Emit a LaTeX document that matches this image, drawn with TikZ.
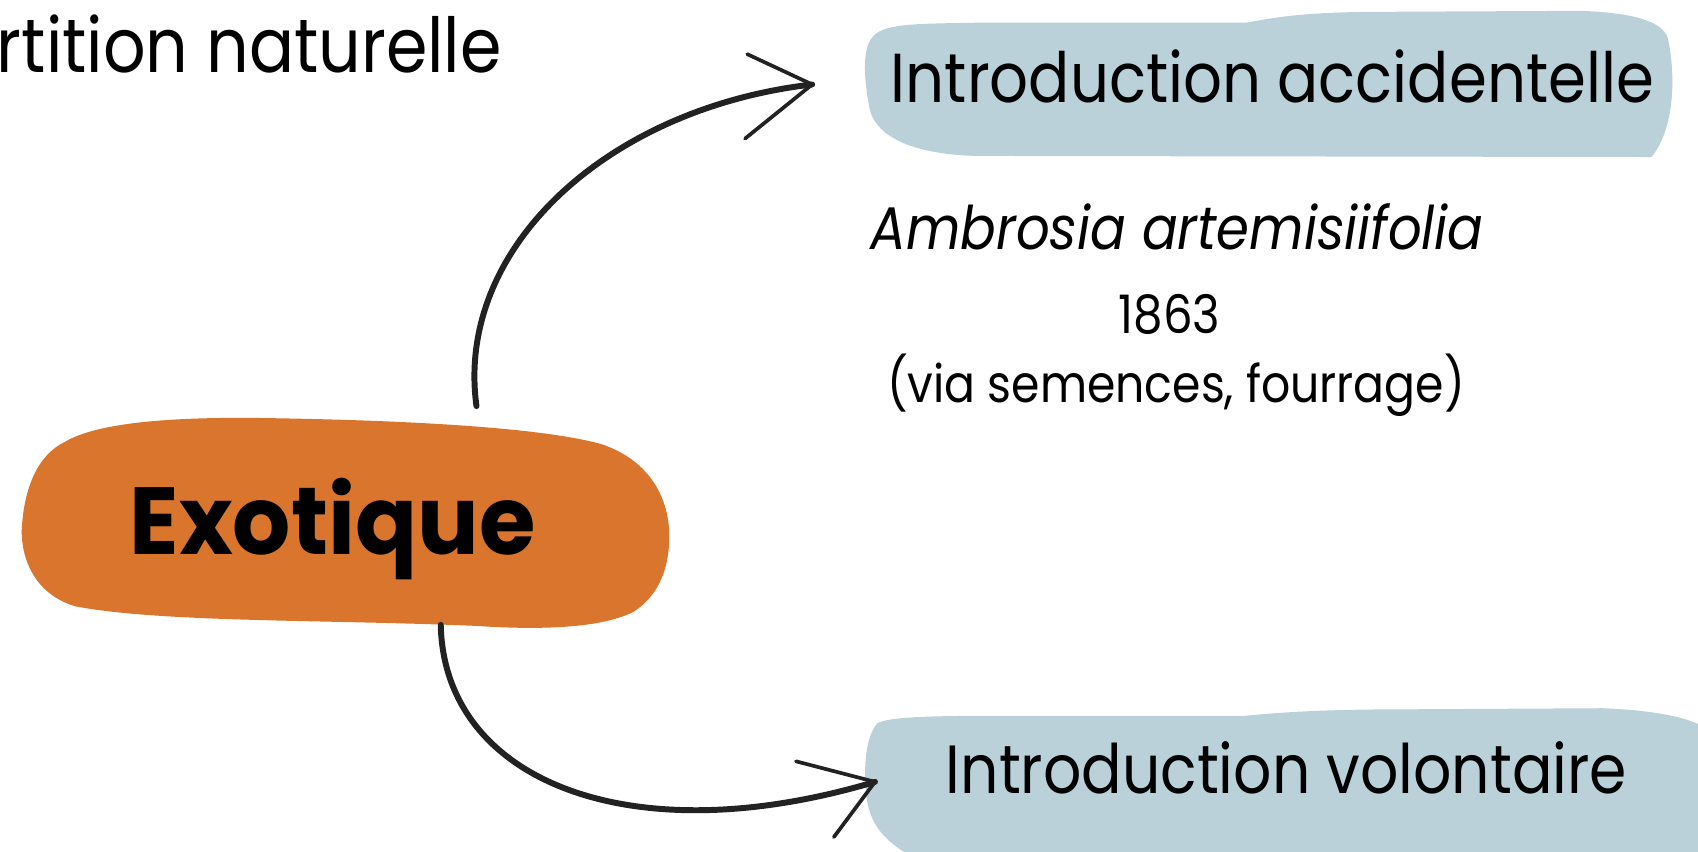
\documentclass[tikz,border=0pt]{standalone}
\usepackage{fontspec}
\setmainfont{Poppins}[FakeStretch=0.88, BoldFeatures={FakeStretch=0.96}]
\definecolor{blobblue}{HTML}{BBD1DA}
\definecolor{bloborange}{HTML}{D9752C}
\definecolor{ink}{HTML}{222222}
\begin{document}
\begin{tikzpicture}[x=1pt,y=-1pt,
  txt/.style={inner sep=0pt,text=black},
  sketch/.style={draw=ink,line width=5.5pt,line cap=round,line join=round},
  tipstroke/.style={draw=ink,line width=3.4pt,line cap=round,line join=round}]
\useasboundingbox (0,0) rectangle (1568,786);
\fill[white] (0,0) rectangle (1568,786);
% blobs
\fill[blobblue] (805,35) .. controls (815,22) and (840,22) .. (900,21) -- (1150,21)
  .. controls (1170,18) and (1190,12) .. (1260,11) -- (1460,10)
  .. controls (1510,12) and (1535,20) .. (1540,35)
  .. controls (1548,70) and (1546,120) .. (1525,145) -- (900,144)
  .. controls (840,142) and (808,125) .. (803,100)
  .. controls (797,70) and (797,45) .. (805,35) -- cycle;
\fill[bloborange] (60,408) .. controls (90,390) and (160,385) .. (240,386)
  .. controls (380,388) and (500,395) .. (555,410)
  .. controls (600,425) and (618,460) .. (618,495)
  .. controls (618,530) and (605,552) .. (585,565)
  .. controls (555,580) and (500,582) .. (440,578)
  .. controls (300,572) and (150,575) .. (70,560)
  .. controls (35,550) and (20,520) .. (20,490)
  .. controls (22,450) and (35,420) .. (60,408) -- cycle;
\fill[blobblue] (810,668) .. controls (820,662) and (860,661) .. (920,661) -- (1150,661)
  .. controls (1180,658) and (1220,655) .. (1300,655) -- (1480,654)
  .. controls (1530,656) and (1560,663) .. (1575,672) -- (1575,790) -- (840,790)
  .. controls (815,775) and (803,760) .. (800,735)
  .. controls (797,705) and (800,680) .. (810,668) -- cycle;
% texts
\node[txt,anchor=base west,font=\fontsize{70}{80}\selectfont] (rep) at (-3,67) {rtition naturelle};
\node[txt,anchor=base,font=\fontsize{64}{72}\selectfont] (acc) at (1175,95) {Introduction accidentelle};
\node[txt,anchor=base,font=\fontsize{55.5}{62}\selectfont\itshape] (amb) at (1087,230) {Ambrosia artemisiifolia};
\node[txt,anchor=base,font=\fontsize{49}{56}\selectfont] (year) at (1080,308) {1863};
\node[txt,anchor=base,font=\fontsize{48}{56}\selectfont] (via) at (1086,372) {(via semences, fourrage)};
\node[txt,anchor=base,font=\fontsize{88}{96}\selectfont\bfseries] (exo) at (307,512) {Exotique};
\node[txt,anchor=base,font=\fontsize{63}{72}\selectfont] (vol) at (1188,733) {Introduction volontaire};
% arrows
\coordinate (s1) at (440,375);
\coordinate (t1) at (750,78);
\coordinate (h1a) at (690,50);
\coordinate (h1b) at (688,128);
\coordinate (s2) at (407,577);
\coordinate (t2) at (808,722);
\coordinate (h2a) at (735,703);
\coordinate (h2b) at (770,773);
\path[sketch] (s1) .. controls (420,230) and (560,100) .. (t1);
\path[tipstroke] (h1a) -- (t1) -- (h1b);
\path[sketch] (s2) .. controls (410,720) and (580,790) .. (t2);
\path[tipstroke] (h2a) -- (t2) -- (h2b);
\end{tikzpicture}
\end{document}
